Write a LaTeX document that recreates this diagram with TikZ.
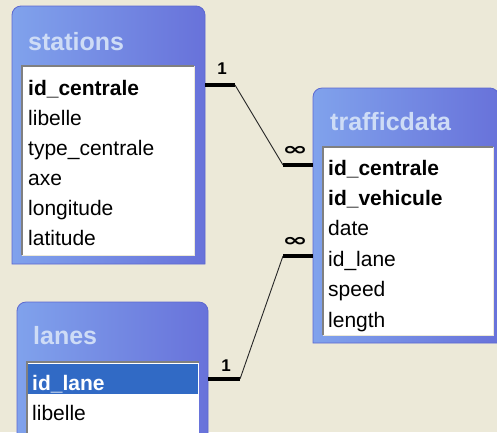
\documentclass[tikz,border=0pt]{standalone}
\usepackage{fontspec}
\setmainfont{Liberation Sans}
\newfontfamily\symfont{DejaVu Sans}
\usetikzlibrary{positioning}

\definecolor{desk}{RGB}{236,233,216}
\definecolor{frameL}{RGB}{128,162,236}
\definecolor{frameR}{RGB}{104,114,218}
\definecolor{frameedge}{RGB}{92,104,208}
\definecolor{titletext}{RGB}{206,220,246}
\definecolor{selrow}{RGB}{49,106,197}
\definecolor{listedge}{RGB}{128,128,128}

\begin{document}
\begin{tikzpicture}[x=1pt,y=-1pt,
	tblframe/.style={inner sep=0pt,outer sep=0pt,anchor=north west},
	tblfill/.style={left color=frameL,right color=frameR,draw=frameedge,line width=0.8pt},
	tbllist/.style={fill=white,inner sep=0pt,outer sep=0pt,anchor=north west},
	tbltitle/.style={anchor=base west,inner sep=0pt,text=titletext,font=\fontsize{25}{25}\selectfont\bfseries},
	field/.style={anchor=base west,inner sep=0pt,font=\fontsize{21}{21}\selectfont},
	keyfield/.style={field,font=\fontsize{21}{21}\selectfont\bfseries},
	card/.style={inner sep=0pt,font=\fontsize{17}{17}\selectfont\bfseries},
	many/.style={inner sep=0pt,font=\symfont\fontsize{18}{18}\selectfont\bfseries},
	joinbar/.style={line width=4.5pt},
	joinline/.style={line width=0.9pt,black!85}]

	\useasboundingbox (0,0) rectangle (497,432);
	\clip (0,0) rectangle (497,432);
	\fill[desk] (0,0) rectangle (497,432);

	% stations
	\node[tblframe,minimum width=193pt,minimum height=258pt] (stations) at (12,6) {};
	\path[tblfill] (stations.west) [rounded corners=9pt] -- (stations.north west)
		-- (stations.north east) -- (stations.east) [sharp corners]
		-- (stations.south east) -- (stations.south west) -- cycle;
	\node[tbllist,minimum width=172pt,minimum height=189pt] (stations-list) at (22,66) {};
	\draw[listedge,line width=2pt] (stations-list.south west) -- (stations-list.north west) -- (stations-list.north east);
	\draw[desk,line width=1pt] (stations-list.north east) -- (stations-list.south east) -- (stations-list.south west);
	\node[tbltitle] (stations-title) at (28,50) {stations};
	\node[keyfield] (st-idc) at (28,95) {id\_centrale};
	\node[field] (st-lib) at (28,125) {libelle};
	\node[field] (st-type) at (28,155) {type\_centrale};
	\node[field] (st-axe) at (28,185) {axe};
	\node[field] (st-lon) at (28,215) {longitude};
	\node[field] (st-lat) at (28,245) {latitude};

	% trafficdata
	\node[tblframe,minimum width=186pt,minimum height=255pt] (trafficdata) at (313,88) {};
	\path[tblfill] (trafficdata.west) [rounded corners=9pt] -- (trafficdata.north west)
		-- (trafficdata.north east) -- (trafficdata.east) [sharp corners]
		-- (trafficdata.south east) -- (trafficdata.south west) -- cycle;
	\node[tbllist,minimum width=170pt,minimum height=188pt] (trafficdata-list) at (323,147) {};
	\draw[listedge,line width=2pt] (trafficdata-list.south west) -- (trafficdata-list.north west) -- (trafficdata-list.north east);
	\draw[desk,line width=1pt] (trafficdata-list.north east) -- (trafficdata-list.south east) -- (trafficdata-list.south west);
	\node[tbltitle] (trafficdata-title) at (330,130) {trafficdata};
	\node[keyfield] (td-idc) at (328,175) {id\_centrale};
	\node[keyfield] (td-idv) at (328,205) {id\_vehicule};
	\node[field] (td-date) at (328,235) {date};
	\node[field] (td-lane) at (328,266) {id\_lane};
	\node[field] (td-speed) at (328,296) {speed};
	\node[field] (td-len) at (328,327) {length};

	% lanes
	\node[tblframe,minimum width=191pt,minimum height=150pt] (lanes) at (17,302) {};
	\path[tblfill] (lanes.west) [rounded corners=9pt] -- (lanes.north west)
		-- (lanes.north east) -- (lanes.east) [sharp corners]
		-- (lanes.south east) -- (lanes.south west) -- cycle;
	\node[tbllist,minimum width=172pt,minimum height=90pt] (lanes-list) at (27,362) {};
	\draw[listedge,line width=2pt] (lanes-list.south west) -- (lanes-list.north west) -- (lanes-list.north east);
	\node[tbllist,fill=selrow,minimum width=170pt,minimum height=30pt] (la-sel) at (28,364) {};
	\node[tbltitle] (lanes-title) at (33,344) {lanes};
	\node[keyfield,text=white] (la-idl) at (32,390) {id\_lane};
	\node[field] (la-lib) at (32,420) {libelle};

	% relationships
	\coordinate (s-knee) at (235,85);
	\coordinate (t-knee) at (283,165);
	\coordinate (l-knee) at (240,379);
	\coordinate (u-knee) at (283,256);

	\draw[joinbar] (stations.east |- s-knee) -- (s-knee);
	\draw[joinline] (s-knee) -- (t-knee);
	\draw[joinbar] (t-knee) -- (trafficdata.west |- t-knee);
	\node[card] (s-one) at (222,69) {1};
	\node[many] (t-many) at (295,151) {\scalebox{1.7}[1]{∞}};

	\draw[joinbar] (lanes.east |- l-knee) -- (l-knee);
	\draw[joinline] (l-knee) -- (u-knee);
	\draw[joinbar] (u-knee) -- (trafficdata.west |- u-knee);
	\node[card] (l-one) at (226,366) {1};
	\node[many] (u-many) at (295,242) {\scalebox{1.7}[1]{∞}};
\end{tikzpicture}
\end{document}
